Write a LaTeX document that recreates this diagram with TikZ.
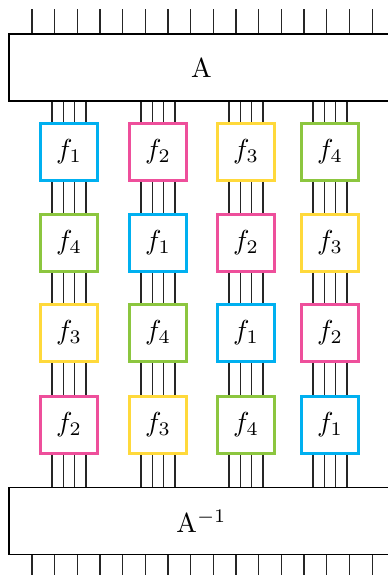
\documentclass[tikz,border=0pt]{standalone}
\usepackage{xcolor}
\definecolor{fOne}  {HTML}{00B0F0}
\definecolor{fTwo}  {HTML}{EE4F9B}
\definecolor{fThree}{HTML}{FFD93B}
\definecolor{fFour} {HTML}{8CC63F}
\usetikzlibrary{positioning, calc}
\tikzset{
    bigbox/.style={draw, rectangle, fill=white, line width=0.45pt,
                   minimum width=140.1pt, minimum height=24.4pt},
    fbox/.style={draw, rectangle, fill=white, line width=1.1pt,
                 minimum size=20.6pt, inner sep=0pt},
    fone/.style={fbox, draw=fOne},
    ftwo/.style={fbox, draw=fTwo},
    fthree/.style={fbox, draw=fThree},
    ffour/.style={fbox, draw=fFour},
    wire/.style={-, line width=0.4pt, black!85},
}

\begin{document}
\begin{tikzpicture}[x=0.364pt, y=-0.364pt]
\useasboundingbox (0,0) rectangle (388,575);
\clip (0,0) rectangle (388,575);
% The two mixing blocks.
\node[bigbox] (A)    at (201.5,  67.5) {A};
\node[bigbox] (Ainv) at (201.5, 521)   {$\mathrm{A}^{-1}$};
% Outer legs.
\foreach \k in {0,...,15} {
    \coordinate (t) at (32+22.67*\k, 0);
    \draw[wire] (A.north -| t) -- ++(0,-24);
    \draw[wire] (Ainv.south -| t) -- ++(0,26);
}
% Four legs per column, running from A down to A^{-1}.
\foreach \cx in {69,158,246,330} {
    \foreach \dx in {-17,-5.67,5.67,17} {
        \coordinate (w) at (\cx+\dx, 0);
        \draw[wire] (A.south -| w) -- (Ainv.north -| w);
    }
}
% Row 1.
\node[fone]   (f11) at ( 69, 152) {$f_1$};
\node[ftwo]   (f12) at (158, 152) {$f_2$};
\node[fthree] (f13) at (246, 152) {$f_3$};
\node[ffour]  (f14) at (330, 152) {$f_4$};
% Row 2.
\node[ffour]  (f21) at ( 69, 243) {$f_4$};
\node[fone]   (f22) at (158, 243) {$f_1$};
\node[ftwo]   (f23) at (246, 243) {$f_2$};
\node[fthree] (f24) at (330, 243) {$f_3$};
% Row 3.
\node[fthree] (f31) at ( 69, 333) {$f_3$};
\node[ffour]  (f32) at (158, 333) {$f_4$};
\node[fone]   (f33) at (246, 333) {$f_1$};
\node[ftwo]   (f34) at (330, 333) {$f_2$};
% Row 4.
\node[ftwo]   (f41) at ( 69, 425) {$f_2$};
\node[fthree] (f42) at (158, 425) {$f_3$};
\node[ffour]  (f43) at (246, 425) {$f_4$};
\node[fone]   (f44) at (330, 425) {$f_1$};
\end{tikzpicture}
\end{document}
